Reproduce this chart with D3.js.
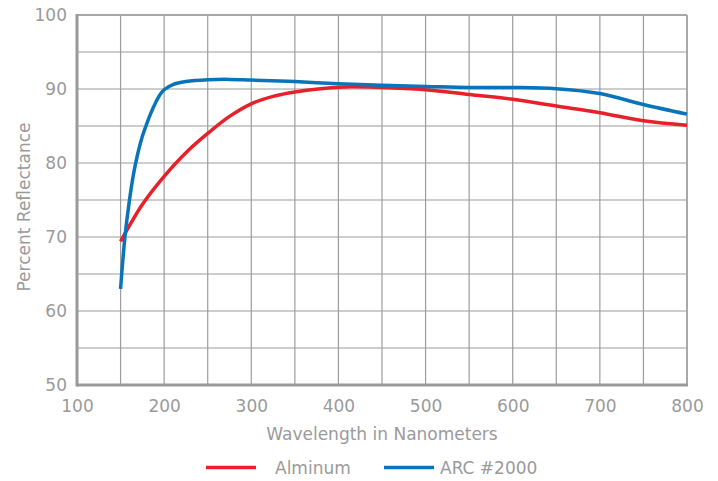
<!DOCTYPE html>
<html><head><meta charset="utf-8">
<script src="https://cdn.jsdelivr.net/npm/d3@7/dist/d3.min.js"></script>
<style>
html,body{margin:0;padding:0;background:#fff;}
text{font-family:"DejaVu Sans",sans-serif;fill:#9a9a9a;}
</style></head>
<body><svg id="chart" width="718" height="481"></svg>
<script>
const seriesNames = ["Alminum", "ARC #2000"];
const seriesColors = ["#e8202a", "#0a74bb"];
const aluminumX = [150,175,200,225,250,275,300,325,350,400,450,500,550,600,650,700,750,800];
const aluminumY = [69.4,74.4,78.2,81.4,84.0,86.3,88.0,89.0,89.6,90.25,90.2,89.9,89.25,88.6,87.7,86.8,85.7,85.1];
const arcX = [150,155,160,165,170,175,180,185,190,195,200,210,225,250,275,300,350,400,450,500,550,600,650,700,750,800];
const arcY = [63.0,70.0,74.8,78.6,81.4,83.6,85.3,86.8,88.1,89.2,89.9,90.6,91.0,91.25,91.3,91.2,91.0,90.7,90.5,90.35,90.2,90.2,90.05,89.4,87.9,86.6];
const xTicks = [100,200,300,400,500,600,700,800];
const yTicks = [50,60,70,80,90,100];
const xGrid = [150,200,250,300,350,400,450,500,550,600,650,700,750];
const yGrid = [55,60,65,70,75,80,85,90,95];
const xTitle = "Wavelength in Nanometers";
const yTitle = "Percent Reflectance";

const svg = d3.select("#chart");
const L = 77, R = 687, T = 15, B = 385;
const x = d3.scaleLinear().domain([100, 800]).range([L, R]);
const y = d3.scaleLinear().domain([50, 100]).range([B, T]);

// grid
svg.append("g").selectAll("line").data(xGrid).join("line")
  .attr("x1", d => x(d)).attr("x2", d => x(d)).attr("y1", T).attr("y2", B)
  .attr("stroke", "#9c9c9c").attr("stroke-width", 1.2);
svg.append("g").selectAll("line").data(yGrid).join("line")
  .attr("y1", d => y(d)).attr("y2", d => y(d)).attr("x1", L).attr("x2", R)
  .attr("stroke", "#9c9c9c").attr("stroke-width", 1.2);

// border
svg.append("line").attr("x1", L).attr("x2", R).attr("y1", T).attr("y2", T).attr("stroke", "#a8a8a8").attr("stroke-width", 2);
svg.append("line").attr("x1", R).attr("x2", R).attr("y1", T).attr("y2", B).attr("stroke", "#a8a8a8").attr("stroke-width", 2);
svg.append("line").attr("x1", L).attr("x2", L).attr("y1", T - 1).attr("y2", B + 1.5).attr("stroke", "#999").attr("stroke-width", 3);
svg.append("line").attr("x1", L).attr("x2", R + 1).attr("y1", B).attr("y2", B).attr("stroke", "#999").attr("stroke-width", 3);

// axes labels via d3 axes
const xAxis = svg.append("g").attr("transform", `translate(0,${B})`)
  .call(d3.axisBottom(x).tickValues(xTicks).tickSize(0).tickPadding(15).tickFormat(d3.format("d")));
xAxis.select(".domain").remove();
xAxis.selectAll("text").attr("font-size", 17).attr("font-family", "DejaVu Sans").attr("fill", "#9a9a9a");

const yAxis = svg.append("g").attr("transform", `translate(${L},0)`)
  .call(d3.axisLeft(y).tickValues(yTicks).tickSize(0).tickPadding(10).tickFormat(d3.format("d")));
yAxis.select(".domain").remove();
yAxis.selectAll("text").attr("font-size", 17).attr("font-family", "DejaVu Sans").attr("fill", "#9a9a9a");

// titles
svg.append("text").attr("x", (L + R) / 2).attr("y", 440).attr("text-anchor", "middle")
  .attr("font-size", 17).text(xTitle);
svg.append("text").attr("transform", `translate(30,${(T + B) / 2 + 7}) rotate(-90)`).attr("text-anchor", "middle")
  .attr("font-size", 17).text(yTitle);

// lines
const line = d3.line().x(d => x(d[0])).y(d => y(d[1])).curve(d3.curveCatmullRom.alpha(0.5));
const data = [d3.zip(aluminumX, aluminumY), d3.zip(arcX, arcY)];
svg.append("g").selectAll("path").data(data).join("path")
  .attr("d", line).attr("fill", "none")
  .attr("stroke", (d, i) => seriesColors[i]).attr("stroke-width", 3.5);

// legend
const legX = [206, 384];
const leg = svg.append("g").selectAll("g").data(seriesNames).join("g")
  .attr("transform", (d, i) => `translate(${legX[i]},467.5)`);
leg.append("line").attr("x1", 0).attr("x2", 50).attr("stroke", (d, i) => seriesColors[i]).attr("stroke-width", 3.5);
leg.append("text").attr("x", (d, i) => i === 0 ? 69 : 56).attr("y", 6.5).attr("font-size", 17).text(d => d);
</script></body></html>
